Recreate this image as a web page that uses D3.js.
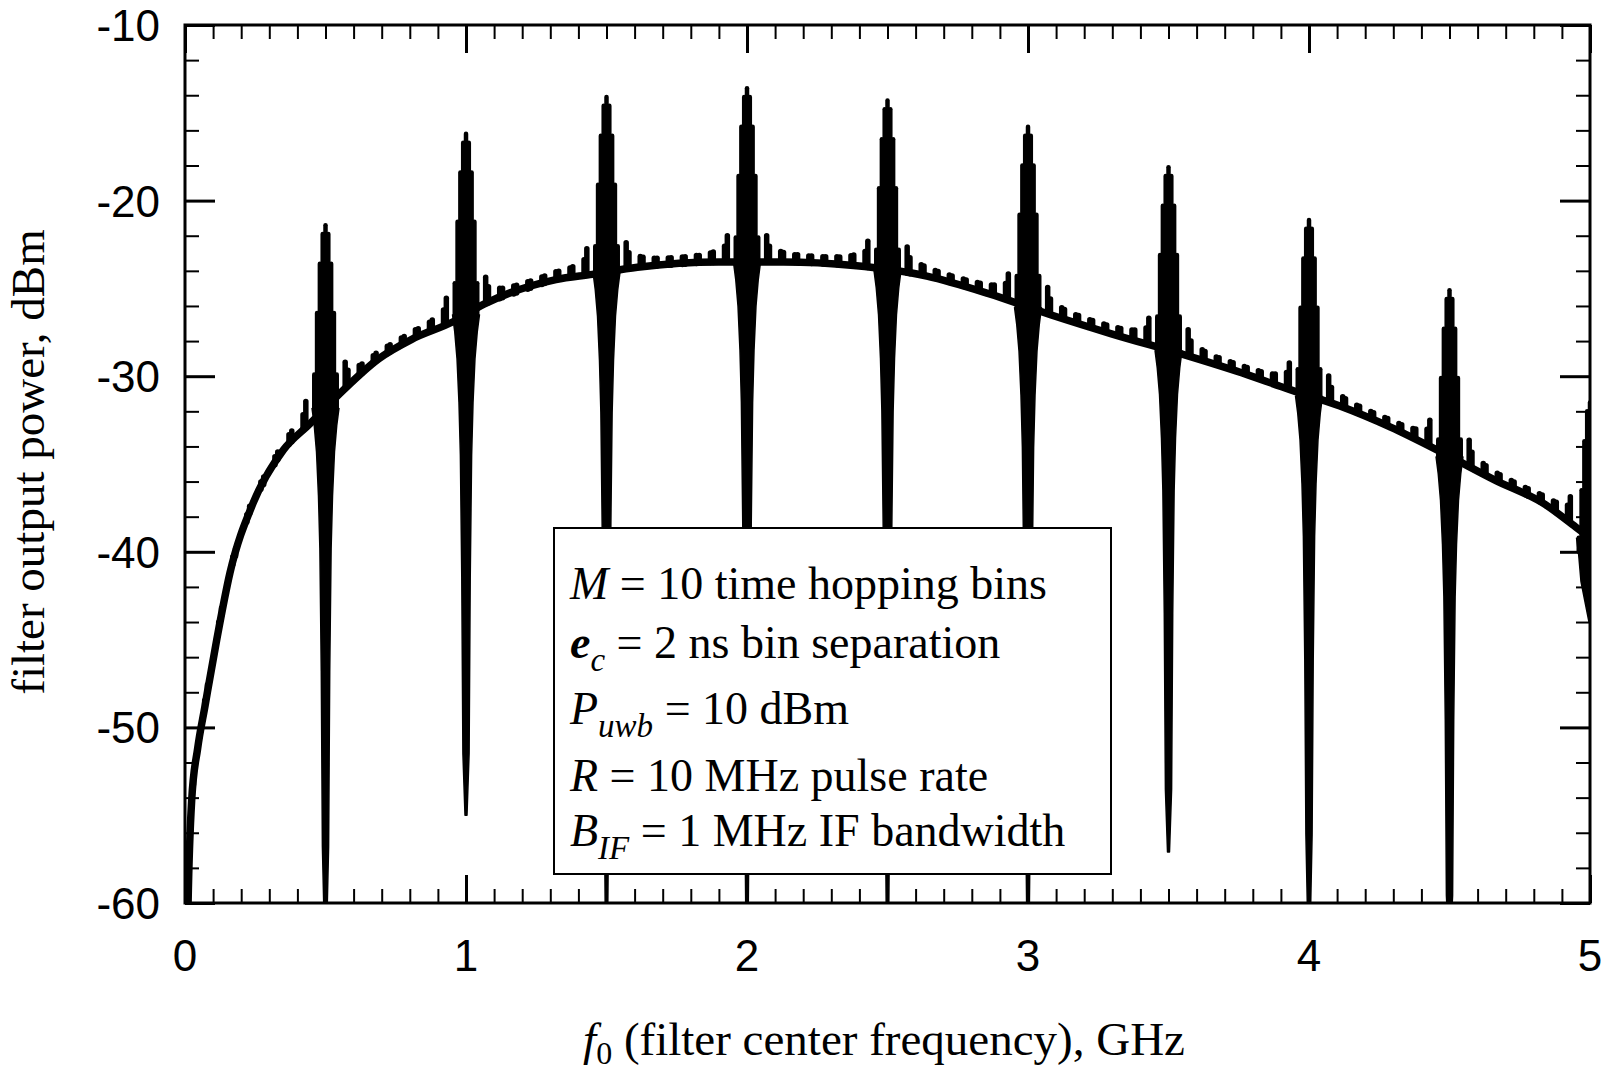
<!doctype html>
<html lang="en">
<head>
<meta charset="utf-8">
<title>Filter output power vs. filter center frequency</title>
<style>
  body { margin: 0; background: #fff; }
  .tick-label { font-family: "Liberation Sans", Arial, sans-serif; font-size: 44px; }
  .serif { font-family: "Liberation Serif", "Times New Roman", serif; font-size: 46px; }
  .title { font-family: "Liberation Serif", "Times New Roman", serif; font-size: 47px; }
</style>
<script src="https://d3js.org/d3.v7.min.js"></script>
</head>
<body>
<div id="chart"></div>
<script>
  // spectral spikes at multiples of 1/(2 ns) = 0.5 GHz
  var spikeF    = [0.5, 1.0, 1.5, 2.0, 2.5, 3.0, 3.5, 4.0, 4.5, 5.0];
  var spikePeak = [-21.4, -16.2, -14.1, -13.6, -14.3, -15.8, -18.1, -21.1, -25.1, -31.5];
  var spikeNull = [-62, -55.0, -62, -62, -62, -62, -57.1, -62, -62, -44];

  // smooth part of the trace (centre of the thick line)
  var baseF  = [0.005, 0.011, 0.024, 0.045, 0.071, 0.113, 0.16, 0.243, 0.35, 0.445, 0.5,
                0.563, 0.69, 0.807, 0.954, 1.064, 1.32, 1.45, 1.61, 1.9, 2.13, 2.38, 2.64,
                2.86, 3.08, 3.3, 3.56, 3.74, 3.93, 4.11, 4.29, 4.48, 4.66, 4.84, 4.95, 5.0];
  var baseDb = [-66, -60, -54.1, -51.2, -48.8, -45.0, -41.2, -37.2, -34.2, -32.7, -31.8,
                -30.8, -29.0, -27.9, -26.9, -25.9, -24.5, -24.2, -23.8, -23.5, -23.5, -23.7, -24.3,
                -25.3, -26.5, -27.6, -28.8, -29.7, -30.75, -31.7, -32.9, -34.4, -35.9, -37.3, -38.6, -39.2];

  // R = 10 MHz line spacing; drop of line k (0..4) below the spike peak, dB
  var lineStep = 0.01;
  var stepDrop = [0, 0.5, 2.2, 5.0, 8.5];
  // valley envelope under each spike: dB below the smooth trace -> half width, GHz
  var wedgeDrop = [0, 1, 2.5, 5, 8, 15, 25, 40];
  var wedgeHalf = [0.048, 0.040, 0.032, 0.025, 0.020, 0.015, 0.011, 0.008];
  // small humps every 50 MHz; rise above the trace (dB) by distance from nearest spike
  var bumpStep = 0.05;
  var bumpRiseIn  = [1.5, 0.6, 0.45, 0.42];
  var bumpRiseOut = [0.9, 0.55, 0.45, 0.42];

  var xTicks = [0, 1, 2, 3, 4, 5];
  var yTicks = [-60, -50, -40, -30, -20, -10];

  var margin = {top: 25, right: 26, bottom: 170, left: 185},
      width = 1616 - margin.left - margin.right,
      height = 1073 - margin.top - margin.bottom;

  var svg = d3.select('#chart').append('svg')
    .attr('width', 1616)
    .attr('height', 1073);

  var g = svg.append('g')
    .attr('transform', 'translate(' + margin.left + ',' + margin.top + ')');

  var x = d3.scaleLinear().domain([0, 5]).range([0, width]);
  var y = d3.scaleLinear().domain([-60, -10]).range([height, 0]);
  var baseAt = d3.scaleLinear().domain(baseF).range(baseDb);

  g.append('clipPath').attr('id', 'plot')
    .append('rect').attr('width', width).attr('height', height);

  var trace = g.append('g').attr('clip-path', 'url(#plot)');

  var smooth = d3.line().x(function(d) { return x(d[0]); }).y(function(d) { return y(d[1]); })
    .curve(d3.curveMonotoneX);
  var straight = d3.line().x(function(d) { return x(d[0]); }).y(function(d) { return y(d[1]); });

  // main trace
  trace.append('path')
    .datum(baseF.map(function(f, i) { return [f, baseDb[i]]; }))
    .attr('d', smooth)
    .attr('fill', 'none')
    .attr('stroke', 'black')
    .attr('stroke-width', 7.5)
    .attr('stroke-linejoin', 'round');

  // humps along the trace (two 10 MHz lines each)
  var bumps = [];
  for (var k = 0; k < 100; k++) {
    var f = bumpStep / 2 + k * bumpStep;
    var near = spikeF[d3.minIndex(spikeF, function(s) { return Math.abs(f - s); })];
    var idx = Math.round((Math.abs(f - near) - 0.075) / bumpStep);
    if (idx < 0) continue;
    idx = Math.min(idx, bumpRiseIn.length - 1);
    var side = f < near ? 1 : -1;   // +1: inner line is to the right
    var fin = f + side * lineStep / 2, fout = f - side * lineStep / 2;
    bumps.push([[fin, baseAt(fin)], [fin, baseAt(fin) + bumpRiseIn[idx]]]);
    bumps.push([[fout, baseAt(fout)], [fout, baseAt(fout) + bumpRiseOut[idx]]]);
  }
  trace.selectAll('.bump')
    .data(bumps)
    .enter().append('path')
    .attr('class', 'bump')
    .attr('d', straight)
    .attr('stroke', 'black')
    .attr('stroke-width', 5.5)
    .attr('stroke-linecap', 'round');

  // valley wedges under the spikes
  spikeF.forEach(function(s, i) {
    var b = baseAt(s);
    var left = [], right = [];
    wedgeDrop.forEach(function(dd, j) {
      if (b - dd > spikeNull[i]) {
        left.push([s - wedgeHalf[j], b - dd]);
        right.unshift([s + wedgeHalf[j], b - dd]);
      }
    });
    var pts = left.concat([[s - 0.0035, spikeNull[i]], [s + 0.0035, spikeNull[i]]], right);
    trace.append('path')
      .datum(pts)
      .attr('d', straight)
      .attr('fill', 'black')
      .attr('stroke', 'black')
      .attr('stroke-width', 1.5)
      .attr('stroke-linejoin', 'round');
  });

  // spectral lines forming the stepped peaks
  var lines = [];
  spikeF.forEach(function(s, i) {
    for (var k = -4; k <= 4; k++) {
      var f = s + k * lineStep;
      lines.push([[f, baseAt(s)], [f, spikePeak[i] - stepDrop[Math.abs(k)]]]);
    }
  });
  trace.selectAll('.sline')
    .data(lines)
    .enter().append('path')
    .attr('class', 'sline')
    .attr('d', straight)
    .attr('stroke', 'black')
    .attr('stroke-width', 4.5)
    .attr('stroke-linecap', 'round');

  // legend box
  g.append('rect')
    .attr('x', 369).attr('y', 503)
    .attr('width', 557).attr('height', 346)
    .attr('fill', 'white')
    .attr('stroke', 'black')
    .attr('stroke-width', 2);

  var lx = 385, sub = 13;
  var t1 = g.append('text').attr('class', 'serif').attr('x', lx).attr('y', 574);
  t1.append('tspan').attr('font-style', 'italic').text('M');
  t1.append('tspan').text(' = 10 time hopping bins');

  var t2 = g.append('text').attr('class', 'serif').attr('x', lx).attr('y', 633);
  t2.append('tspan').attr('font-style', 'italic').attr('font-weight', 'bold').text('e');
  t2.append('tspan').attr('font-style', 'italic').attr('font-size', '33px').attr('dy', sub).text('c');
  t2.append('tspan').attr('dy', -sub).text(' = 2 ns bin separation');

  var t3 = g.append('text').attr('class', 'serif').attr('x', lx).attr('y', 699);
  t3.append('tspan').attr('font-style', 'italic').text('P');
  t3.append('tspan').attr('font-style', 'italic').attr('font-size', '33px').attr('dy', sub).text('uwb');
  t3.append('tspan').attr('dy', -sub).text(' = 10 dBm');

  var t4 = g.append('text').attr('class', 'serif').attr('x', lx).attr('y', 766);
  t4.append('tspan').attr('font-style', 'italic').text('R');
  t4.append('tspan').text(' = 10 MHz pulse rate');

  var t5 = g.append('text').attr('class', 'serif').attr('x', lx).attr('y', 821);
  t5.append('tspan').attr('font-style', 'italic').text('B');
  t5.append('tspan').attr('font-style', 'italic').attr('font-size', '33px').attr('dy', sub).text('IF');
  t5.append('tspan').attr('dy', -sub).text(' = 1 MHz IF bandwidth');

  // ticks on all four sides, pointing inward
  var minorX = d3.range(51).filter(function(i) { return i % 10 !== 0; }).map(function(i) { return i / 10; });
  var minorY = d3.range(-60, -9, 2).filter(function(v) { return v % 10 !== 0; });

  function tickGroup(axis, tr, w) {
    var a = g.append('g').attr('transform', tr).call(axis);
    a.select('.domain').remove();
    a.selectAll('.tick line').attr('stroke', 'black').attr('stroke-width', w);
    a.selectAll('.tick text').remove();
  }
  tickGroup(d3.axisBottom(x).tickValues(xTicks).tickSize(-28), 'translate(0,' + height + ')', 3);
  tickGroup(d3.axisBottom(x).tickValues(minorX).tickSize(-14), 'translate(0,' + height + ')', 2);
  tickGroup(d3.axisTop(x).tickValues(xTicks).tickSize(-28), 'translate(0,0)', 3);
  tickGroup(d3.axisTop(x).tickValues(minorX).tickSize(-14), 'translate(0,0)', 2);
  tickGroup(d3.axisLeft(y).tickValues(yTicks).tickSize(-30), 'translate(0,0)', 3);
  tickGroup(d3.axisLeft(y).tickValues(minorY).tickSize(-14), 'translate(0,0)', 2);
  tickGroup(d3.axisRight(y).tickValues(yTicks).tickSize(-30), 'translate(' + width + ',0)', 3);
  tickGroup(d3.axisRight(y).tickValues(minorY).tickSize(-14), 'translate(' + width + ',0)', 2);

  // frame
  g.append('rect')
    .attr('width', width).attr('height', height)
    .attr('fill', 'none')
    .attr('stroke', 'black')
    .attr('stroke-width', 3);

  // tick labels
  g.selectAll('.xlab')
    .data(xTicks)
    .enter().append('text')
    .attr('class', 'tick-label')
    .attr('x', function(d) { return x(d); })
    .attr('y', height + 68)
    .style('text-anchor', 'middle')
    .text(function(d) { return d; });

  g.selectAll('.ylab')
    .data(yTicks)
    .enter().append('text')
    .attr('class', 'tick-label')
    .attr('x', -25)
    .attr('y', function(d) { return y(d) + 16; })
    .style('text-anchor', 'end')
    .text(function(d) { return d; });

  // axis titles
  svg.append('text')
    .attr('class', 'title')
    .attr('transform', 'translate(44,462) rotate(-90)')
    .style('text-anchor', 'middle')
    .text('filter output power, dBm');

  var xt = svg.append('text')
    .attr('class', 'title')
    .attr('x', 884).attr('y', 1055)
    .style('text-anchor', 'middle');
  xt.append('tspan').attr('font-style', 'italic').text('f');
  xt.append('tspan').attr('font-size', '32px').attr('dy', 9).text('0');
  xt.append('tspan').attr('dy', -9).text(' (filter center frequency), GHz');
</script>
</body>
</html>
